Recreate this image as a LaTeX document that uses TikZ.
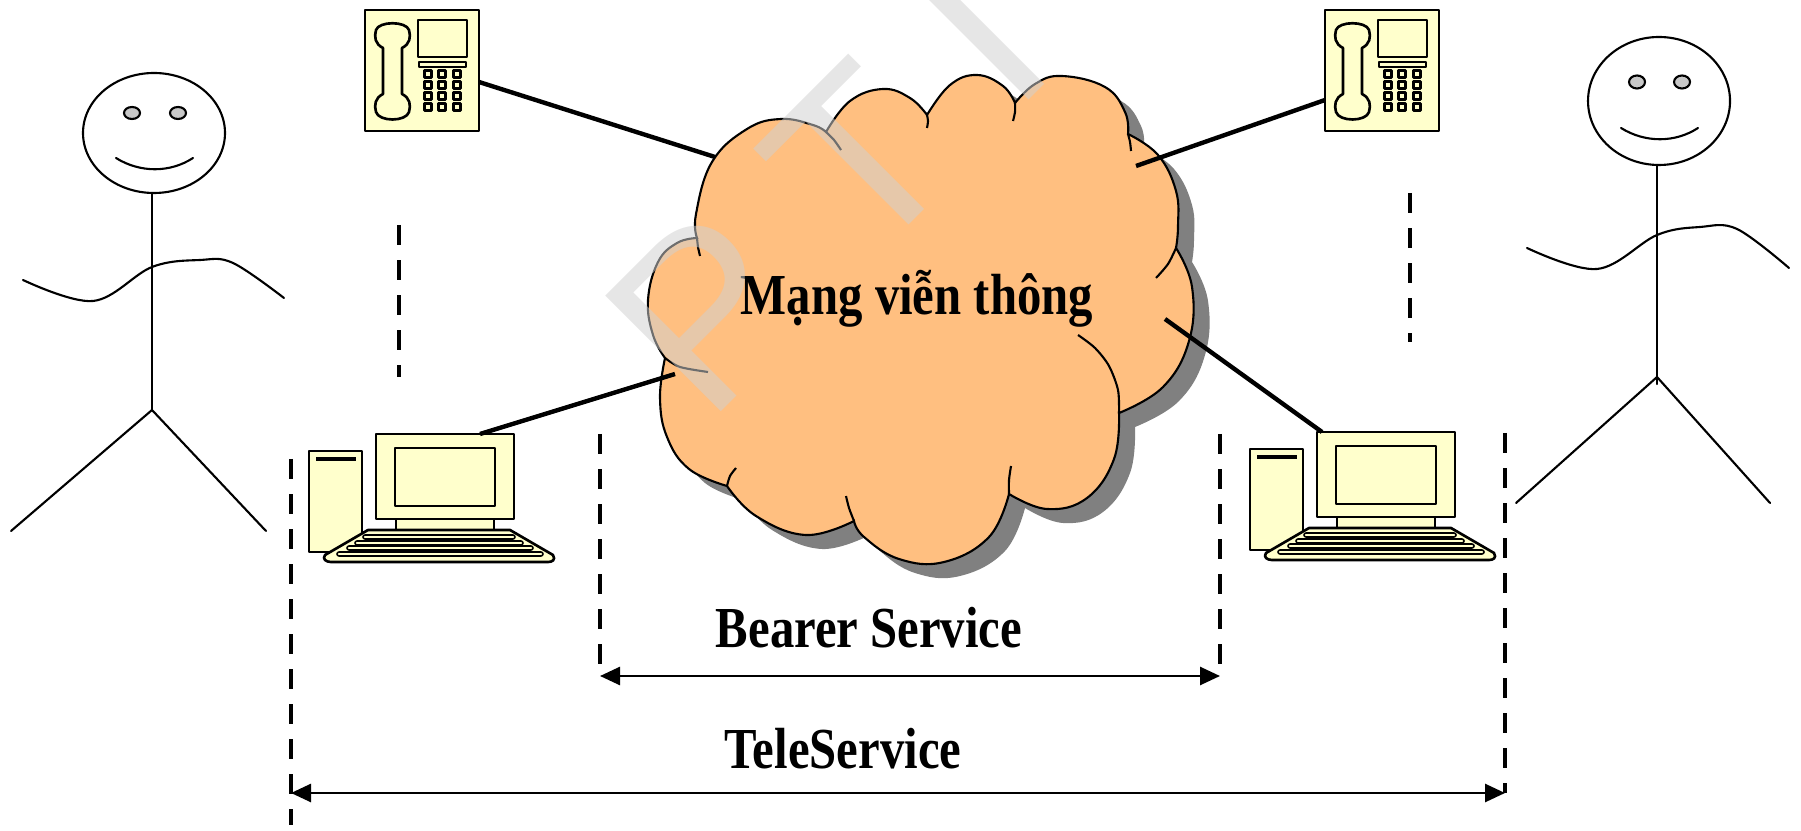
\documentclass[tikz,border=0pt]{standalone}
\usepackage{fontspec}
\setmainfont{Liberation Serif}
\newfontfamily\labelfont[FakeStretch=0.84]{Liberation Serif}
\newfontfamily\markfont{Liberation Sans}
\usetikzlibrary{arrows.meta}
\definecolor{devicefill}{HTML}{FFFFCC}
\definecolor{cloudfill}{HTML}{FFBF80}
\definecolor{cloudshadow}{HTML}{808080}
\definecolor{eyefill}{HTML}{C8C8C8}
\definecolor{markgray}{HTML}{D0D0D0}

% outline of the network cloud, one smooth plot per bump
\newcommand\cloudoutline{%
  plot[smooth,tension=0.7] coordinates {(697,238) (696,214) (712,162) (747,129) (781,119) (813,125) (826,132)}
  -- plot[smooth,tension=0.7] coordinates {(826,132) (850,101) (883,89) (910,98) (927,115)}
  -- plot[smooth,tension=0.7] coordinates {(927,115) (950,85) (977,75) (1003,86) (1015,103)}
  -- plot[smooth,tension=0.7] coordinates {(1015,103) (1035,84) (1062,76) (1105,87) (1125,112) (1128,134)}
  -- plot[smooth,tension=0.7] coordinates {(1128,134) (1158,155) (1176,191) (1178,226) (1176,248)}
  -- plot[smooth,tension=0.7] coordinates {(1176,248) (1192,287) (1189,341) (1163,387) (1119,413)}
  -- plot[smooth,tension=0.7] coordinates {(1119,413) (1114,459) (1087,498) (1047,509) (1009,494)}
  -- plot[smooth,tension=0.7] coordinates {(1009,494) (989,537) (944,562) (899,559) (864,537) (854,521)}
  -- plot[smooth,tension=0.7] coordinates {(854,521) (806,535) (756,516) (727,486)}
  -- plot[smooth,tension=0.7] coordinates {(727,486) (689,469) (667,437) (660,398) (665,358)}
  -- plot[smooth,tension=0.7] coordinates {(665,358) (653,335) (648,300) (658,262) (677,243) (697,238)}
  -- cycle}

\begin{document}
\begin{tikzpicture}[x=0.01cm,y=-0.01cm,
  device/.style={draw,fill=devicefill,line width=0.75pt,line join=round},
  person/.style={line width=0.6pt,line cap=round},
  cloudline/.style={line width=0.6pt},
  wire/.style={line width=1.25pt},
  guideline/.style={line width=1.3pt,dash pattern=on 2mm off 1.5mm},
  spanarrow/.style={line width=0.75pt,{Triangle[length=2mm,width=1.8mm]}-{Triangle[length=2mm,width=1.8mm]}},
  labeltext/.style={font=\labelfont\bfseries\fontsize{16.5}{20}\selectfont,inner sep=0pt,anchor=base},
  watermark/.style={font=\markfont\fontsize{67.6}{80}\selectfont,text=markgray,opacity=0.53,inner sep=0pt,anchor=base,rotate=45}]
  \useasboundingbox (0,0) rectangle (1801,831);

  % telephones
  \foreach \dx in {0,960} {%
    \begin{scope}[shift={(\dx,0)}]
      \draw[device] (365,10) rectangle (479,131);
      \draw[device] (383,48) .. controls (375,44) and (374,37) .. (376,30) .. controls (379,21) and (406,21) .. (409,30)
        .. controls (411,37) and (410,44) .. (402,48) -- (402,94) .. controls (410,98) and (411,105) .. (409,112)
        .. controls (406,122) and (379,122) .. (376,112) .. controls (374,105) and (375,98) .. (383,94) -- cycle;
      \draw[device] (418,20) rectangle (467,57);
      \draw[device] (419,62) rectangle (466,67);
      \foreach \kx in {428,442,457} {%
        \foreach \ky in {74,85,96,107} {%
          \draw[device] (\kx-3.3,\ky-3.3) rectangle ++(6.6,6.6);
        }
      }
    \end{scope}
  }

  % computers
  \foreach \dx/\dy in {0/0,941/-2} {%
    \begin{scope}[shift={(\dx,\dy)}]
      \draw[device] (309,451) rectangle (362,552);
      \draw[line width=1.1pt] (316,459) -- (356,459);
      \draw[device] (396,519) rectangle (494,530);
      \draw[device] (376,434) rectangle (514,519);
      \draw[device] (395,448) rectangle (495,506);
      \draw[device] (368,530) -- (510,530) -- (553,555) .. controls (556,560) and (552,562) .. (548,562)
        -- (331,562) .. controls (326,562) and (322,559) .. (325,555) -- cycle;
      \draw[device,line width=0.45pt,rounded corners=0.2mm] (363,535) rectangle (515,539);
      \draw[device,line width=0.45pt,rounded corners=0.2mm] (355,541) rectangle (523,545);
      \draw[device,line width=0.45pt,rounded corners=0.2mm] (347,546) rectangle (533,550);
      \draw[device,line width=0.45pt,rounded corners=0.2mm] (337,552) rectangle (543,556);
    \end{scope}
  }

  % left person
  \draw[person] (154,133) ellipse [x radius=71, y radius=60];
  \filldraw[person,fill=eyefill] (132,113) ellipse [x radius=8, y radius=6];
  \filldraw[person,fill=eyefill] (178,113) ellipse [x radius=8, y radius=6];
  \draw[person] (116,158) .. controls (140,173) and (170,173) .. (193,158);
  \draw[person] (152,193) -- (152,410);
  \draw[person] plot[smooth,tension=0.6] coordinates {(23,280) (93,301) (152,267) (200,260) (233,263) (284,298)};
  \draw[person] (11,531) -- (152,410) -- (266,531);

  % right person
  \draw[person] (1659,101) ellipse [x radius=71, y radius=64];
  \filldraw[person,fill=eyefill] (1637,82) ellipse [x radius=8, y radius=6.5];
  \filldraw[person,fill=eyefill] (1682,82) ellipse [x radius=8, y radius=6.5];
  \draw[person] (1621,128) .. controls (1645,143) and (1675,143) .. (1698,128);
  \draw[person] (1657,165) -- (1657,384);
  \draw[person] plot[smooth,tension=0.6] coordinates {(1527,248) (1597,269) (1657,235) (1700,227) (1737,229) (1789,268)};
  \draw[person] (1516,503) -- (1657,377) -- (1770,503);

  % network cloud
  \fill[cloudshadow,shift={(16,14)}] \cloudoutline;
  \filldraw[cloudline,fill=cloudfill] \cloudoutline;
  \draw[cloudline] plot[smooth] coordinates {(697,238) (698,247) (700,256)};
  \draw[cloudline] plot[smooth] coordinates {(826,132) (834,140) (841,150)};
  \draw[cloudline] plot[smooth] coordinates {(927,115) (928,121) (927,128)};
  \draw[cloudline] plot[smooth] coordinates {(1015,103) (1015,112) (1013,121)};
  \draw[cloudline] plot[smooth] coordinates {(1128,134) (1130,142) (1131,151)};
  \draw[cloudline] plot[smooth] coordinates {(1176,248) (1168,264) (1156,278)};
  \draw[cloudline] plot[smooth] coordinates {(1119,413) (1118,390) (1109,366) (1095,348) (1078,335)};
  \draw[cloudline] plot[smooth] coordinates {(1009,494) (1009,480) (1011,466)};
  \draw[cloudline] plot[smooth] coordinates {(854,521) (849,508) (846,496)};
  \draw[cloudline] plot[smooth] coordinates {(727,486) (730,476) (736,468)};
  \draw[cloudline] plot[smooth] coordinates {(665,358) (680,367) (708,372)};
  \node[labeltext] (net) at (917,315) {Mạng viễn thông};

  % links to the cloud
  \coordinate (phoneL) at (479,82);
  \coordinate (phoneR) at (1325,100);
  \coordinate (pcL) at (480,434);
  \coordinate (pcR) at (1322,432);
  \coordinate (netPhoneL) at (715,157);
  \coordinate (netPhoneR) at (1136,166);
  \coordinate (netPcL) at (675,374);
  \coordinate (netPcR) at (1165,319);
  \draw[wire] (phoneL) -- (netPhoneL);
  \draw[wire] (phoneR) -- (netPhoneR);
  \draw[wire] (pcL) -- (netPcL);
  \draw[wire] (pcR) -- (netPcR);

  % dotted continuation between phone and computer
  \draw[guideline] (399,225) -- (399,377);
  \draw[guideline] (1410,193) -- (1410,342);

  % service spans
  \coordinate (bearerL) at (600,676);
  \coordinate (bearerR) at (1220,676);
  \coordinate (teleL) at (291,793);
  \coordinate (teleR) at (1505,793);
  \draw[guideline] (600,434) -- (bearerL);
  \draw[guideline] (1220,434) -- (bearerR);
  \draw[guideline] (291,459) -- (291,825);
  \draw[guideline] (1505,433) -- (teleR);
  \draw[spanarrow] (bearerL) -- (bearerR);
  \draw[spanarrow] (teleL) -- (teleR);
  \node[labeltext] (bearer) at (869,647) {Bearer Service};
  \node[labeltext] (tele) at (843,768) {TeleService};

  % watermark letters
  \node[watermark] (wmP) at (764,369) {P};
  \node[watermark] (wmT) at (917,217) {T};
  \node[watermark] (wmI) at (1037,92) {I};
\end{tikzpicture}
\end{document}
